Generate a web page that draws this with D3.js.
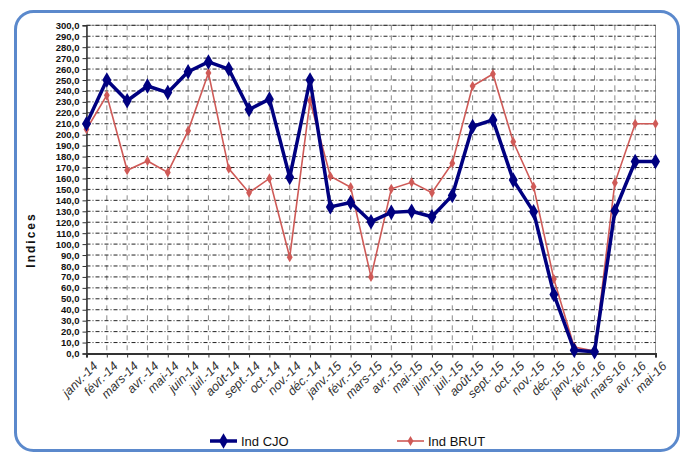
<!DOCTYPE html>
<html><head><meta charset="utf-8">
<script src="https://cdn.jsdelivr.net/npm/d3@7"></script>
<style>html,body{margin:0;padding:0;background:#fff;}svg{display:block;}</style>
</head><body>
<svg id="c" width="686" height="454"></svg>
<script>
const categories = ["janv.-14","févr.-14","mars-14","avr.-14","mai-14","juin-14","juil.-14","août-14","sept.-14","oct.-14","nov.-14","déc.-14",
"janv.-15","févr.-15","mars-15","avr.-15","mai-15","juin-15","juil.-15","août-15","sept.-15","oct.-15","nov.-15","déc.-15",
"janv.-16","févr.-16","mars-16","avr.-16","mai-16"];
const indCJO = [210,250,231,244.5,238.5,257.5,266.5,260,223,232.5,161,250,134,138,120.5,129,130,125,144.5,207.5,213.5,158.5,129.5,54,3,1.6,130.5,175.5,175.5];
const indBRUT = [205,236,167.5,176,165.5,203.5,256.5,169,147,160,88,231,162,152,70,150.5,156.5,147,174,244.5,255.5,193.5,152.5,68,6,2.3,156,210,210];
const yTicks = d3.range(0, 301, 10);
const yTickLabels = yTicks.map(v => v.toFixed(1).replace(".", ","));
const seriesNames = ["Ind CJO", "Ind BRUT"];

const svg = d3.select("#c");
const L = 86.5, R = 655.5, T = 25.3, B = 353.5;
const x = d3.scalePoint().domain(categories).range([L, R]);
const y = d3.scaleLinear().domain([0, 300]).range([B, T]);

// frame
svg.append("rect").attr("x", 15.5).attr("y", 11.5).attr("width", 663).attr("height", 439)
  .attr("rx", 18).attr("fill", "none").attr("stroke", "#5b89cc").attr("stroke-width", 3);

// plot border
svg.append("rect").attr("x", L).attr("y", T).attr("width", R - L).attr("height", B - T)
  .attr("fill", "none").attr("stroke", "#a0a0a0").attr("stroke-width", 1);

// vertical grid
svg.append("g").selectAll("line").data(categories).join("line")
  .attr("x1", d => x(d)).attr("x2", d => x(d)).attr("y1", T).attr("y2", B)
  .attr("stroke", "#8a8a8a").attr("stroke-width", 1).attr("stroke-dasharray", "5,5");

// horizontal grid
svg.append("g").selectAll("line").data(yTicks.slice(1)).join("line")
  .attr("x1", L).attr("x2", R).attr("y1", d => y(d)).attr("y2", d => y(d))
  .attr("stroke", "#222").attr("stroke-width", 1).attr("stroke-dasharray", "4,2,1,2");

// y axis
const yAxis = d3.axisLeft(y).tickValues(yTicks).tickFormat((d, i) => yTickLabels[i]).tickSize(4).tickPadding(3);
const gy = svg.append("g").attr("transform", `translate(${L},0)`).call(yAxis);
gy.select(".domain").attr("stroke", "#333").attr("stroke-width", 1.5);
gy.selectAll(".tick line").attr("stroke", "#333");
gy.selectAll("text").attr("font-family", "'Liberation Sans',Arial,sans-serif")
  .attr("font-size", 9.5).attr("font-weight", "bold").attr("fill", "#111");

// x axis
const xAxis = d3.axisBottom(x).tickSize(4).tickPadding(4);
const gx = svg.append("g").attr("transform", `translate(0,${B})`).call(xAxis);
gx.select(".domain").attr("stroke", "#333").attr("stroke-width", 2);
gx.selectAll(".tick line").attr("stroke", "#333");
gx.selectAll("text")
  .attr("font-family", "'Liberation Sans',Arial,sans-serif").attr("font-size", 12.5).attr("font-style", "italic")
  .attr("fill", "#333").attr("text-anchor", "end")
  .attr("transform", "translate(4,6) rotate(-45)").attr("dy", "0.35em").attr("y", 6).attr("x", 0);

// y title
svg.append("text").attr("transform", "translate(35,240) rotate(-90)").attr("text-anchor", "middle")
  .attr("font-family", "'Liberation Sans',Arial,sans-serif").attr("font-size", 12).attr("font-weight", "bold")
  .attr("letter-spacing", "2px").attr("fill", "#111").text("Indices");

const line = d3.line().x((d, i) => x(categories[i])).y(d => y(d));
const diamond = d3.symbol().type(d3.symbolDiamond);

// BRUT series
const red = "#cf5a57";
svg.append("path").datum(indBRUT).attr("d", line).attr("fill", "none").attr("stroke", red).attr("stroke-width", 1.6);
svg.append("g").selectAll("path").data(indBRUT).join("path")
  .attr("transform", (d, i) => `translate(${x(categories[i])},${y(d)})`)
  .attr("d", diamond.size(30)).attr("fill", red);

// CJO series
const blue = "#000080";
svg.append("path").datum(indCJO).attr("d", line).attr("fill", "none").attr("stroke", blue).attr("stroke-width", 3.5).attr("stroke-linejoin", "round");
svg.append("g").selectAll("path").data(indCJO).join("path")
  .attr("transform", (d, i) => `translate(${x(categories[i])},${y(d)})`)
  .attr("d", diamond.size(70)).attr("fill", blue);

// legend
const leg = [{name: seriesNames[0], color: blue, w: 3.5, s: 70, x: 210}, {name: seriesNames[1], color: red, w: 1.6, s: 30, x: 397}];
const lg = svg.append("g");
leg.forEach(l => {
  lg.append("line").attr("x1", l.x).attr("x2", l.x + 27).attr("y1", 441).attr("y2", 441).attr("stroke", l.color).attr("stroke-width", l.w);
  lg.append("path").attr("transform", `translate(${l.x + 13.5},441)`).attr("d", d3.symbol().type(d3.symbolDiamond).size(l.s)()).attr("fill", l.color);
  lg.append("text").attr("x", l.x + 31).attr("y", 446).attr("font-family", "'Liberation Sans',Arial,sans-serif")
    .attr("font-size", 13).attr("fill", "#111").text(l.name);
});
</script>
</body></html>
